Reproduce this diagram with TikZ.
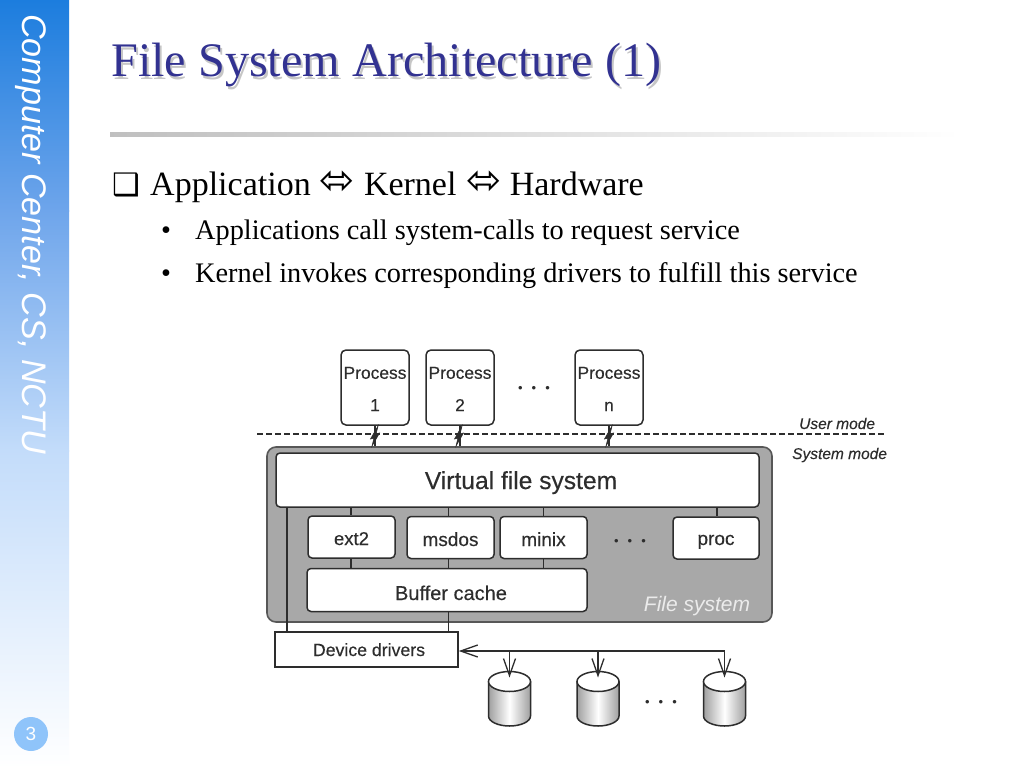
\documentclass[tikz,border=0pt]{standalone}
\usepackage{fontspec}
\setmainfont{Liberation Serif}
\setsansfont{Liberation Sans}
\newfontfamily\symfont{DejaVu Sans}
\newfontfamily\dgf[FakeBold=0.3]{Liberation Sans}
\usetikzlibrary{arrows.meta,shapes.geometric}
\definecolor{titleblue}{RGB}{50,50,145}
\definecolor{ink}{RGB}{45,45,45}
\definecolor{fsgray}{RGB}{168,168,168}
\definecolor{badge}{RGB}{143,196,250}
\newcommand{\fsz}[1]{\fontsize{#1pt}{#1pt}\selectfont}
\tikzset{
  x=1pt,y=-1pt,
  >={Straight Barb[length=17pt,width=12pt,line width=1.3pt]},
  box/.style={draw=ink,line width=1.5pt,fill=white,rounded corners=4pt,inner sep=0pt,font=\dgf,text=ink,text depth=0pt},
  plainbox/.style={box,rounded corners=0pt},
  link/.style={draw=ink,line width=1.3pt},
  dotrow/.style={inner sep=0pt,font=\sffamily\fsz{13},text=ink},
  modelabel/.style={inner sep=0pt,font=\dgf\itshape\fsz{15.5},text=ink},
  body/.style={inner sep=0pt,anchor=base west,text=black},
  procbox/.style={draw=ink,line width=1.5pt,fill=white,rounded corners=5pt,inner sep=0pt,minimum width=68pt,minimum height=75pt,align=center,font=\dgf\fsz{17.4},text=ink},
  cylbody/.style={draw=ink,line width=1.5pt,left color=gray!75,right color=gray!75,middle color=white},
  cyltop/.style={draw=ink,line width=1.5pt,fill=white,shape=ellipse,inner sep=0pt,minimum width=42pt,minimum height=20pt},
}
\newcommand{\bolt}[1]{\path[fill=ink,draw=ink,line width=0.6pt,shift={(#1,436)}] (3,-10)--(-4.5,3)--(-1,2)--(-3,10)--(4.5,-3)--(1,-2)--cycle;}
\newcommand{\threedots}{•\hspace{9pt}•\hspace{9pt}•}
\newcommand{\harrow}{\raisebox{1pt}{\scalebox{1.17}{\symfont\fsz{36}⬄}}}
\newcommand{\disk}[2]{%
  \path[cylbody] (#2-21,682) -- (#2-21,716) arc[start angle=180,end angle=360,x radius=21pt,y radius=10pt] -- (#2+21,682) -- cycle;
  \node[cyltop] (#1) at (#2,681.5) {};}
\begin{document}
\begin{tikzpicture}
\useasboundingbox (0,0) rectangle (1024,768);
\fill[white] (0,0) rectangle (1024,768);
% side band
\shade[top color={rgb,255:red,28;green,125;blue,222},bottom color={rgb,255:red,110;green,165;blue,235}] (0,0) rectangle (69,211);
\shade[top color={rgb,255:red,110;green,165;blue,235},bottom color={rgb,255:red,195;green,220;blue,250}] (0,210) rectangle (69,451);
\shade[top color={rgb,255:red,195;green,220;blue,250},bottom color=white] (0,450) rectangle (69,768);
\node[rotate=-90,anchor=base west,inner sep=0pt,text=white,font=\sffamily\itshape\fsz{34.1}] (side) at (22,14) {Computer Center, CS, NCTU};
\node[circle,fill=badge,minimum size=34pt,inner sep=0pt,text=white,font=\sffamily\fsz{19}] (page) at (31,734) {3};
% title
\node[body,text=gray!45,font=\fsz{48.2}] (titleshadow) at (113,79) {File System Architecture (1)};
\node[body,text=titleblue,font=\fsz{48.2}] (title) at (111,77) {File System Architecture (1)};
\shade[left color=gray!50,right color=white] (110,132) rectangle (960,136.5);
% bullets
\node[body,font=\fsz{34}] (l1) at (112,195) {{\symfont\fsz{31}❑}};
\node[body,font=\fsz{34}] (l1b) at (150,195) {Application\hspace{9pt}\harrow\hspace{9pt}Kernel\hspace{10pt}\harrow\hspace{8pt}Hardware};
\node[body,font=\fsz{28.3}] (b1) at (161,239) {•};
\node[body,font=\fsz{28.3}] (t1) at (195,239) {Applications call system-calls to request service};
\node[body,font=\fsz{28.3}] (b2) at (161,282) {•};
\node[body,font=\fsz{28.3}] (t2) at (195,282) {Kernel invokes corresponding drivers to fulfill this service};
% file system block
\node[draw=ink!80,line width=1.6pt,fill=fsgray,rounded corners=9pt,inner sep=0pt,minimum width=505pt,minimum height=175pt] (fs) at (519.5,534.5) {};
\node[box,minimum width=483pt,minimum height=54pt,font=\dgf\fsz{24.6},text height=18pt] (vfs) at (517.5,480) {\hspace*{7pt}Virtual file system};
\node[box,minimum width=87pt,minimum height=42pt,font=\dgf\fsz{18.5},text height=16pt] (ext) at (351.5,537) {ext2};
\node[box,minimum width=87pt,minimum height=42pt,font=\dgf\fsz{19},text height=17pt] (msdos) at (450.5,537.5) {msdos};
\node[box,minimum width=87pt,minimum height=42pt,font=\dgf\fsz{19},text height=17pt] (minix) at (543.5,537.5) {minix};
\node[box,minimum width=86pt,minimum height=42pt,font=\dgf\fsz{19},text height=14pt] (proc) at (716,538) {proc};
\node[box,minimum width=280pt,minimum height=43pt,font=\dgf\fsz{20},text height=20pt] (buf) at (447,590) {\hspace*{8pt}Buffer cache};
\node[plainbox,minimum width=183pt,minimum height=35pt,font=\dgf\fsz{17.7},text height=13pt] (dev) at (366.5,649.5) {\hspace*{5pt}Device drivers};
\node[inner sep=0pt,text=white!92!black,font=\sffamily\itshape\fsz{21}] (fslabel) at (697,606) {File system};
\node[dotrow] (dots2) at (630,542) {\threedots};
% processes
\node[procbox] (p1) at (375,387.5) {Process\rule{0pt}{15pt}\\[15pt]1};
\node[procbox] (p2) at (460,387.5) {Process\rule{0pt}{15pt}\\[15pt]2};
\node[procbox] (pn) at (609,387.5) {Process\rule{0pt}{15pt}\\[15pt]n};
\node[dotrow] (dots1) at (534,389) {\threedots};
% mode line
\coordinate (modeL) at (257,434);
\coordinate (modeR) at (885,434);
\draw[ink,line width=1.3pt,dash pattern=on 6pt off 3pt] (modeL) -- (modeR);
\node[modelabel,anchor=base west] (um) at (799,429) {User mode};
\node[modelabel,anchor=base west] (sm) at (792,459) {System mode};
% connectors
\draw[link] (p1.south) -- (p1.south |- fs.north);
\draw[link] (p2.south) -- (p2.south |- fs.north);
\draw[link] (pn.south) -- (pn.south |- fs.north);
\bolt{375}\bolt{459}\bolt{609}
\coordinate (a1) at (351,0); \coordinate (a2) at (448.5,0); \coordinate (a3) at (543.5,0); \coordinate (a4) at (717,0);
\draw[link] (a1 |- vfs.south) -- (a1 |- ext.north);
\draw[link] (a2 |- vfs.south) -- (a2 |- msdos.north);
\draw[link] (a3 |- vfs.south) -- (a3 |- minix.north);
\draw[link] (a4 |- vfs.south) -- (a4 |- proc.north);
\draw[link] (a1 |- ext.south) -- (a1 |- buf.north);
\draw[link] (a2 |- msdos.south) -- (a2 |- buf.north);
\draw[link] (a3 |- minix.south) -- (a3 |- buf.north);
\coordinate (a5) at (287,0);
\draw[link] (a5 |- vfs.south) -- (a5 |- dev.north);
\draw[link] (a2 |- buf.south) -- (a2 |- dev.north);
% disks
\disk{d1}{509.5}
\disk{d2}{598}
\disk{d3}{724.5}
\node[dotrow] (dots3) at (661,703) {\threedots};
\path (dev.east) ++(0,1.5) coordinate (busy);
\draw[link,<->,shorten >=4pt] (busy) -| (d3.center);
\draw[link,->,shorten >=4pt] (d1 |- busy) -- (d1.center);
\draw[link,->,shorten >=4pt] (d2 |- busy) -- (d2.center);
\end{tikzpicture}
\end{document}
